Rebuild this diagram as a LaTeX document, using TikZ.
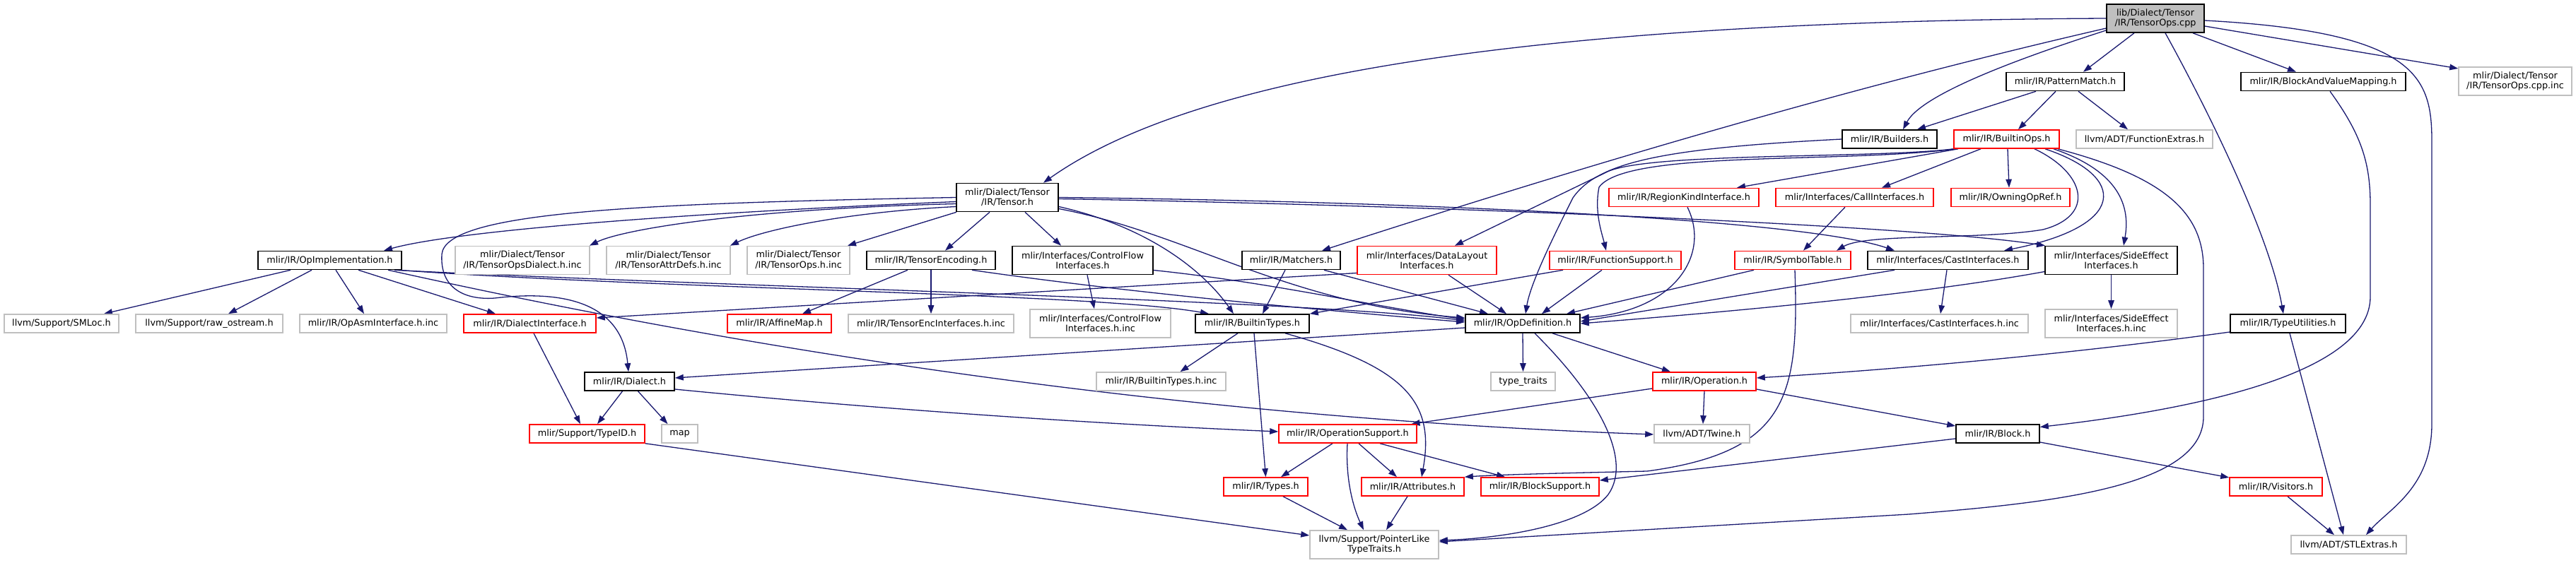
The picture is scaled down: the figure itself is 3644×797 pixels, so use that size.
\documentclass[tikz,border=0pt]{standalone}
\usepackage{fontspec}
\setmainfont{DejaVu Sans}
\usetikzlibrary{arrows.meta}
\definecolor{edgec}{HTML}{191970}
\definecolor{grayc}{HTML}{BFBFBF}
\definecolor{redc}{HTML}{FF0000}
\definecolor{rootfill}{HTML}{BFBFBF}
\pgfdeclarelayer{bg}
\pgfsetlayers{bg,main}
\tikzset{
  box/.style={draw, line width=1.6pt, inner sep=0pt, minimum height=26pt, align=center,
    font=\fontsize{12.8pt}{14.3pt}\selectfont, fill=white},
  bk/.style={box, draw=black},
  rd/.style={box, draw=redc},
  gr/.style={box, draw=grayc},
  rt/.style={box, draw=black, fill=rootfill},
  tall/.style={minimum height=40pt},
  e/.style={draw=edgec, line width=1.3pt, -{Triangle[length=12pt,width=8.5pt]}}
}
\begin{document}
\begin{tikzpicture}[x=1pt,y=-1pt]
\useasboundingbox (0,0) rectangle (3644,797);
% nodes
\node[rt, tall, minimum width=138pt] (root) at (3049,26) {lib/Dialect/Tensor\\/IR/TensorOps.cpp};
\node[bk, minimum width=167pt] (pm) at (2921.5,115.5) {mlir/IR/PatternMatch.h};
\node[bk, minimum width=233pt] (bavm) at (3286.5,115.5) {mlir/IR/BlockAndValueMapping.h};
\node[gr, tall, minimum width=160pt] (cppinc) at (3558,115) {mlir/Dialect/Tensor\\/IR/TensorOps.cpp.inc};
\node[bk, minimum width=134pt] (builders) at (2673,197) {mlir/IR/Builders.h};
\node[rd, minimum width=149pt] (bops) at (2838.5,197) {mlir/IR/BuiltinOps.h};
\node[gr, minimum width=193pt] (fext) at (3033.5,197) {llvm/ADT/FunctionExtras.h};
\node[rd, minimum width=212pt] (rk) at (2382,279.5) {mlir/IR/RegionKindInterface.h};
\node[rd, minimum width=223pt] (ci) at (2623.5,279.5) {mlir/Interfaces/CallInterfaces.h};
\node[rd, minimum width=168pt] (oor) at (2844,279.5) {mlir/IR/OwningOpRef.h};
\node[bk, tall, minimum width=144pt] (tensor) at (1425,279.5) {mlir/Dialect/Tensor\\/IR/Tensor.h};
\node[bk, minimum width=203pt] (opimpl) at (466.5,368.5) {mlir/IR/OpImplementation.h};
\node[gr, tall, minimum width=190pt] (tod) at (739,368.5) {mlir/Dialect/Tensor\\/IR/TensorOpsDialect.h.inc};
\node[gr, tall, minimum width=175pt] (tad) at (945.5,368.5) {mlir/Dialect/Tensor\\/IR/TensorAttrDefs.h.inc};
\node[gr, tall, minimum width=145pt] (toi) at (1129.5,368.5) {mlir/Dialect/Tensor\\/IR/TensorOps.h.inc};
\node[bk, minimum width=182pt] (tenc) at (1317,368.5) {mlir/IR/TensorEncoding.h};
\node[bk, tall, minimum width=199pt] (cf) at (1531.5,368.5) {mlir/Interfaces/ControlFlow\\Interfaces.h};
\node[bk, minimum width=139pt] (match) at (1826.5,368.5) {mlir/IR/Matchers.h};
\node[rd, tall, minimum width=197pt] (dl) at (2018.5,368.5) {mlir/Interfaces/DataLayout\\Interfaces.h};
\node[rd, minimum width=186pt] (fs) at (2285,368.5) {mlir/IR/FunctionSupport.h};
\node[rd, minimum width=164pt] (st) at (2536,368.5) {mlir/IR/SymbolTable.h};
\node[bk, minimum width=227pt] (cast) at (2755.5,368.5) {mlir/Interfaces/CastInterfaces.h};
\node[bk, tall, minimum width=187pt] (se) at (2986.5,368.5) {mlir/Interfaces/SideEffect\\Interfaces.h};
\node[gr, minimum width=162pt] (smloc) at (87,458) {llvm/Support/SMLoc.h};
\node[gr, minimum width=208pt] (raw) at (296,458) {llvm/Support/raw\_ostream.h};
\node[gr, minimum width=208pt] (opasm) at (528,458) {mlir/IR/OpAsmInterface.h.inc};
\node[rd, minimum width=187pt] (dif) at (749.5,458) {mlir/IR/DialectInterface.h};
\node[rd, minimum width=147pt] (affine) at (1102.5,458) {mlir/IR/AffineMap.h};
\node[gr, minimum width=234pt] (encinc) at (1317,458) {mlir/IR/TensorEncInterfaces.h.inc};
\node[gr, tall, minimum width=199pt] (cfinc) at (1556.5,458) {mlir/Interfaces/ControlFlow\\Interfaces.h.inc};
\node[bk, minimum width=161pt] (bt) at (1771.5,458) {mlir/IR/BuiltinTypes.h};
\node[bk, minimum width=162pt] (opdef) at (2154,458) {mlir/IR/OpDefinition.h};
\node[gr, minimum width=251pt] (castinc) at (2743.5,458) {mlir/Interfaces/CastInterfaces.h.inc};
\node[gr, tall, minimum width=187pt] (seinc) at (2986.5,458) {mlir/Interfaces/SideEffect\\Interfaces.h.inc};
\node[bk, minimum width=163pt] (tu) at (3236.5,458) {mlir/IR/TypeUtilities.h};
\node[bk, minimum width=127pt] (dialect) at (890.5,540) {mlir/IR/Dialect.h};
\node[gr, minimum width=183pt] (btinc) at (1642.5,540) {mlir/IR/BuiltinTypes.h.inc};
\node[gr, minimum width=91pt] (tt) at (2154.5,540) {type\_traits};
\node[rd, minimum width=146pt] (op) at (2411,540) {mlir/IR/Operation.h};
\node[rd, minimum width=163pt] (typeid) at (830.5,614) {mlir/Support/TypeID.h};
\node[gr, minimum width=51pt] (map) at (961.5,614) {map};
\node[rd, minimum width=195pt] (os) at (1906.5,614) {mlir/IR/OperationSupport.h};
\node[gr, minimum width=135pt] (twine) at (2407.5,614) {llvm/ADT/Twine.h};
\node[bk, minimum width=118pt] (block) at (2826,614) {mlir/IR/Block.h};
\node[rd, minimum width=119pt] (types) at (1790.5,689) {mlir/IR/Types.h};
\node[rd, minimum width=145pt] (attr) at (1998.5,689) {mlir/IR/Attributes.h};
\node[rd, minimum width=167pt] (bs) at (2178.5,689) {mlir/IR/BlockSupport.h};
\node[rd, minimum width=131pt] (vis) at (3219.5,689) {mlir/IR/Visitors.h};
\node[gr, tall, minimum width=182pt] (pl) at (1944,771) {llvm/Support/PointerLike\\TypeTraits.h};
\node[gr, minimum width=163pt] (stl) at (3322.5,771) {llvm/ADT/STLExtras.h};
% edges
\begin{pgfonlayer}{bg}
\fill[white] (0,0) rectangle (3644,797);
% root
\draw[e] (root.west) .. controls (2200,30) and (1700,100) .. ([xshift=51pt]tensor.north);
\draw[e] ([yshift=-17pt]root.west) .. controls (2880,75) and (2720,130) .. ([xshift=19pt]builders.north);
\draw[e] ([yshift=-14pt]root.west) .. controls (2610,125) and (2240,235) .. ([xshift=43.5pt]match.north);
\draw[e] ([xshift=-30pt]root.south) -- ([xshift=25.5pt]pm.north);
\draw[e] ([xshift=53pt]root.south) -- ([xshift=-38.5pt]bavm.north);
\draw[e] ([yshift=-11pt]root.east) -- ([yshift=18pt]cppinc.west);
\draw[e] ([yshift=-3pt]root.east) .. controls (3420,45) and (3440,110) .. (3440,200) -- (3440,600) .. controls (3440,690) and (3380,720) .. ([xshift=24.5pt]stl.north);
\draw[e] ([xshift=14pt]root.south) .. controls (3120,150) and (3210,330) .. ([xshift=-6.5pt]tu.north);
% PatternMatch
\draw[e] ([xshift=-41.5pt]pm.south) -- ([xshift=39pt]builders.north);
\draw[e] ([xshift=-13.5pt]pm.south) -- ([xshift=16.5pt]bops.north);
\draw[e] ([xshift=18.5pt]pm.south) -- ([xshift=-23.5pt]fext.north);
% BlockAndValueMapping
\draw[e] ([xshift=9.5pt]bavm.south) .. controls (3340,190) and (3353,230) .. (3353,290) -- (3353,420) .. controls (3353,530) and (3100,580) .. ([yshift=9.5pt]block.east);
% Builders
\draw[e] (builders.west) .. controls (2350,210) and (2260,230) .. (2225,280) .. controls (2200,330) and (2165,400) .. ([xshift=4pt]opdef.north);
% BuiltinOps
\draw[e] ([xshift=-68.5pt]bops.south) -- ([xshift=75pt]rk.north);
\draw[e] ([xshift=-36.5pt]bops.south) -- ([xshift=38.5pt]ci.north);
\draw[e] ([xshift=1.5pt]bops.south) -- ([xshift=-2pt]oor.north);
\draw[e] ([xshift=39.5pt]bops.south) .. controls (2950,245) and (2965,305) .. (2890,325) .. controls (2800,340) and (2640,330) .. ([xshift=62pt]st.north);
\draw[e] ([xshift=54.5pt]bops.south) .. controls (3010,250) and (3010,320) .. ([xshift=79.5pt]cast.north);
\draw[e] ([xshift=66.5pt]bops.south) .. controls (2990,240) and (3015,285) .. ([xshift=17.5pt]se.north);
\draw[e] ([xshift=72.5pt]bops.south) .. controls (3060,250) and (3117,300) .. (3117,380) -- (3117,590) .. controls (3117,690) and (2900,712) .. (2700,728) -- ([yshift=4pt]pl.east);
\draw[e] (bops.south west) .. controls (2650,225) and (2320,215) .. (2270,245) -- ([xshift=39.5pt]dl.north);
\draw[e] ([xshift=4pt]bops.south west) .. controls (2600,232) and (2300,212) .. (2262,265) .. controls (2255,300) and (2266,330) .. ([xshift=-13pt]fs.north);
% Tensor.h
\draw[e] (tensor.west) .. controls (900,288) and (630,300) .. (625,360) .. controls (622,410) and (660,425) .. (700,422) .. controls (800,410) and (880,430) .. ([xshift=-1.5pt]dialect.north);
\draw[e] ([yshift=-6pt]tensor.west) .. controls (1000,300) and (650,325) .. ([xshift=76.5pt]opimpl.north);
\draw[e] ([yshift=-9pt]tensor.west) .. controls (1050,296) and (880,325) .. ([xshift=95pt]tod.north);
\draw[e] ([yshift=-13pt]tensor.west) .. controls (1200,300) and (1080,325) .. ([xshift=87.5pt]tad.north);
\draw[e] ([xshift=-72pt]tensor.south) -- ([xshift=69.5pt]toi.north);
\draw[e] ([xshift=-25pt]tensor.south) -- ([xshift=20pt]tenc.north);
\draw[e] ([xshift=25pt]tensor.south) -- ([xshift=-30.5pt]cf.north);
\draw[e] ([yshift=-13pt]tensor.east) .. controls (1620,320) and (1700,380) .. ([xshift=-26.5pt]bt.north);
\draw[e] ([yshift=-16pt]tensor.east) .. controls (1680,330) and (1820,430) .. ([yshift=8pt]opdef.west);
\draw[e] (tensor.east) .. controls (2000,285) and (2550,310) .. ([xshift=-75.5pt]cast.north);
\draw[e] ([yshift=-2pt]tensor.east) .. controls (2000,290) and (2700,318) .. ([xshift=-93.5pt]se.north);
% OpImplementation
\draw[e] ([xshift=-55.5pt]opimpl.south) -- ([xshift=60pt]smloc.north);
\draw[e] ([xshift=-25.5pt]opimpl.south) -- ([xshift=27pt]raw.north);
\draw[e] ([xshift=8.5pt]opimpl.south) -- ([xshift=-13pt]opasm.north);
\draw[e] ([xshift=40.5pt]opimpl.south) -- ([xshift=-48.5pt]dif.north);
\draw[e] ([xshift=82.5pt]opimpl.south) .. controls (1100,505) and (1700,592) .. ([yshift=-1pt]twine.west);
\draw[e] ([xshift=91.5pt]opimpl.south) .. controls (1000,405) and (1850,425) .. ([yshift=4pt]opdef.west);
\draw[e] ([xshift=96.5pt]opimpl.south) .. controls (950,410) and (1550,415) .. ([xshift=-61.5pt]bt.north);
% DialectInterface
\draw[e] ([xshift=5.5pt]dif.south) -- ([xshift=-9.5pt]typeid.north);
% DataLayout
\draw[e] ([yshift=-18pt]dl.west) -- ([yshift=8pt]dif.east);
\draw[e] ([xshift=30.5pt]dl.south) -- ([xshift=-23pt]opdef.north);
% Matchers
\draw[e] ([xshift=-8.5pt]match.south) -- ([xshift=14.5pt]bt.north);
\draw[e] ([xshift=46.5pt]match.south) -- ([xshift=-49pt]opdef.north);
% TensorEncoding
\draw[e] ([xshift=-33pt]tenc.south) -- ([xshift=32.5pt]affine.north);
\draw[e] (tenc.south) -- (encinc.north);
\draw[e] ([xshift=58pt]tenc.south) .. controls (1600,415) and (1880,440) .. ([yshift=2pt]opdef.west);
% ControlFlow
\draw[e] ([xshift=6.5pt]cf.south) -- ([xshift=-8.5pt]cfinc.north);
\draw[e] ([yshift=-14pt]cf.east) .. controls (1800,400) and (1950,435) .. ([yshift=6pt]opdef.west);
% FunctionSupport
\draw[e] ([xshift=-74pt]fs.south) -- (bt.north east);
\draw[e] ([xshift=-19pt]fs.south) -- ([xshift=27pt]opdef.north);
% RegionKind
\draw[e] ([xshift=5pt]rk.south) .. controls (2420,360) and (2370,440) .. ([yshift=8pt]opdef.east);
% SymbolTable
\draw[e] ([xshift=-55pt]st.south) -- ([xshift=62pt]opdef.north);
\draw[e] ([xshift=3pt]st.south) .. controls (2545,560) and (2530,640) .. (2330,667) .. controls (2200,670) and (2120,672) .. (attr.north east);
% CallInterfaces
\draw[e] ([xshift=-13.5pt]ci.south) -- ([xshift=15pt]st.north);
% CastInterfaces
\draw[e] ([xshift=-1.5pt]cast.south) -- ([xshift=1.5pt]castinc.north);
\draw[e] ([xshift=-75.5pt]cast.south) -- ([yshift=3pt]opdef.east);
% SideEffect
\draw[e] (se.south) -- (seinc.north);
\draw[e] ([yshift=-16pt]se.west) .. controls (2700,420) and (2400,445) .. ([yshift=0pt]opdef.east);
% OpDefinition
\draw[e] ([yshift=-6pt]opdef.west) -- ([yshift=5pt]dialect.east);
\draw[e] (opdef.south) -- (tt.north);
\draw[e] ([xshift=42pt]opdef.south) -- ([xshift=-48pt]op.north);
\draw[e] ([xshift=17pt]opdef.south) .. controls (2260,560) and (2310,650) .. (2275,700) .. controls (2240,745) and (2120,762) .. ([yshift=6pt]pl.east);
% Operation
\draw[e] ([yshift=-10pt]op.west) -- ([xshift=90pt]os.north);
\draw[e] (op.south) -- ([xshift=1.5pt]twine.north);
\draw[e] ([yshift=-11pt]op.east) -- ([yshift=11pt]block.west);
% TypeUtilities
\draw[e] ([yshift=-12pt]tu.west) .. controls (2900,505) and (2650,525) .. ([yshift=5pt]op.east);
\draw[e] ([xshift=2.5pt]tu.south) -- ([xshift=-7.5pt]stl.north);
% Dialect
\draw[e] ([xshift=-10pt]dialect.south) -- ([xshift=14.5pt]typeid.north);
\draw[e] ([xshift=12pt]dialect.south) -- ([xshift=-17pt]map.north);
\draw[e] ([yshift=-11pt]dialect.east) .. controls (1250,580) and (1550,600) .. ([yshift=3pt]os.west);
% TypeID
\draw[e] (typeid.south east) -- ([yshift=13pt]pl.west);
% BuiltinTypes
\draw[e] ([xshift=-20.5pt]bt.south) -- ([xshift=27pt]btinc.north);
\draw[e] ([xshift=2.5pt]bt.south) -- (types.north);
\draw[e] ([xshift=46.5pt]bt.south) .. controls (1990,520) and (2030,570) .. ([xshift=12.5pt]attr.north);
% OperationSupport
\draw[e] ([xshift=-21.5pt]os.south) -- ([xshift=21.5pt]types.north);
\draw[e] ([xshift=-0.5pt]os.south) .. controls (1903,680) and (1915,720) .. ([xshift=-15pt]pl.north);
\draw[e] ([xshift=15.5pt]os.south) -- ([xshift=-22.5pt]attr.north);
\draw[e] ([xshift=45.5pt]os.south) -- ([xshift=-49.5pt]bs.north);
% Types, Attributes
\draw[e] ([xshift=24.5pt]types.south) -- ([xshift=-38pt]pl.north);
\draw[e] ([xshift=-7.5pt]attr.south) -- ([xshift=17pt]pl.north);
% Block
\draw[e] ([yshift=-7pt]block.west) -- ([yshift=9pt]bs.east);
\draw[e] ([yshift=-12pt]block.east) -- ([yshift=13pt]vis.west);
% Visitors
\draw[e] ([xshift=16.5pt]vis.south) -- ([xshift=-20.5pt]stl.north);
\end{pgfonlayer}
\end{tikzpicture}
\end{document}
